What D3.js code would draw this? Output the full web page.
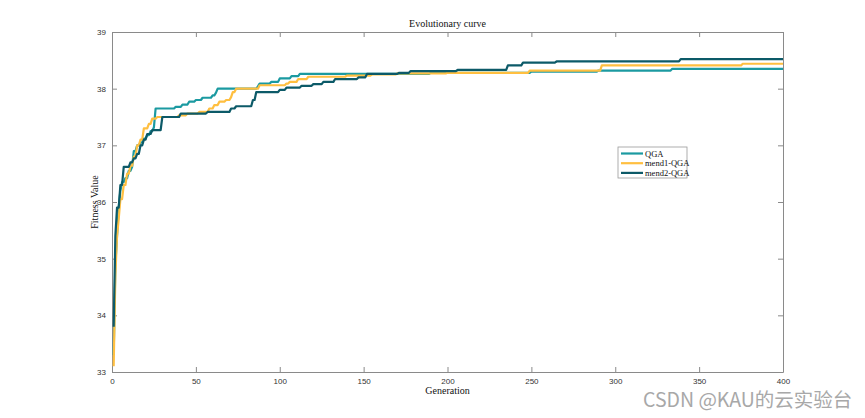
<!DOCTYPE html>
<html><head><meta charset="utf-8">
<script src="https://cdn.jsdelivr.net/npm/d3@7"></script>
<style>body{margin:0;background:#fff;}svg{display:block;}</style>
</head><body>
<script>
const seriesNames = ["QGA", "mend1-QGA", "mend2-QGA"];
const seriesColors = ["#1b9aa1", "#ffbf40", "#0c5a68"];
const xTicks = [0, 50, 100, 150, 200, 250, 300, 350, 400];
const yTicks = [33, 34, 35, 36, 37, 38, 39];

// generations where the best fitness changes, and the new value from that generation on
const qgaGen = [1,2,3,4,5,6,8,10,12,13,15,17,19,21,23,25,26,38,42,46,50,54,60,62,63,87,88,95,100,107,112,190,250,290,334,400];
const qgaVal = [33.3,34.9,35.4,35.9,36.2,36.35,36.42,36.55,36.62,36.9,37.0,37.05,37.12,37.18,37.25,37.32,37.65,37.68,37.72,37.77,37.8,37.84,37.88,37.93,38.0,38.04,38.09,38.12,38.18,38.22,38.26,38.28,38.3,38.32,38.35,38.35];

const mend1Gen = [1,2,3,4,5,7,9,11,13,15,17,19,22,24,27,40,45,52,58,61,64,68,71,72,74,88,104,106,111,117,140,155,170,200,249,292,376,400];
const mend1Val = [33.1,34.7,35.4,35.7,36.05,36.3,36.5,36.64,36.8,37.0,37.1,37.3,37.38,37.47,37.5,37.53,37.56,37.59,37.65,37.71,37.77,37.8,37.85,37.94,38.0,38.06,38.09,38.12,38.17,38.21,38.23,38.25,38.27,38.28,38.32,38.41,38.44,38.44];

const mend2Gen = [1,2,3,5,7,11,13,15,17,19,21,24,30,41,57,71,74,84,86,100,104,113,120,126,133,147,152,171,178,206,236,245,265,339,400];
const mend2Val = [33.8,35.4,35.9,36.3,36.62,36.7,36.77,36.85,37.0,37.1,37.2,37.27,37.5,37.56,37.59,37.65,37.69,37.8,37.94,37.98,38.02,38.05,38.08,38.12,38.17,38.2,38.26,38.28,38.31,38.33,38.41,38.46,38.48,38.52,38.52];

const W = 865, H = 418;
const margin = {left:112, right:82, top:32, bottom:46};
const svg = d3.select("body").append("svg").attr("width", W).attr("height", H);

const x = d3.scaleLinear().domain([0,400]).range([margin.left, W - margin.right]);
const y = d3.scaleLinear().domain([33,39]).range([H - margin.bottom, margin.top]);

const axisColor = "#8a8a8a";
const tickFont = "'Liberation Sans', Arial, sans-serif";
const serif = "'Liberation Serif', 'Times New Roman', serif";

function styleAxis(g, showLabels){
  g.select(".domain").attr("stroke", axisColor).attr("stroke-width", 1);
  g.selectAll(".tick line").attr("stroke", axisColor);
  g.selectAll(".tick text").attr("fill", "#333").style("font-family", tickFont).style("font-size", "8px");
  if(!showLabels) g.selectAll(".tick text").remove();
}

const x0 = x.range()[0], x1 = x.range()[1], y0 = y.range()[0], y1 = y.range()[1];
const fmt = d3.format("d");

svg.append("g").attr("transform", `translate(0,${y0})`)
  .call(d3.axisBottom(x).tickValues(xTicks).tickFormat(fmt).tickSizeInner(-5).tickSizeOuter(0).tickPadding(6))
  .call(g => styleAxis(g, true));
svg.append("g").attr("transform", `translate(0,${y1})`)
  .call(d3.axisTop(x).tickValues(xTicks).tickSizeInner(-5).tickSizeOuter(0))
  .call(g => styleAxis(g, false));
svg.append("g").attr("transform", `translate(${x0},0)`)
  .call(d3.axisLeft(y).tickValues(yTicks).tickFormat(fmt).tickSizeInner(-5).tickSizeOuter(0).tickPadding(6))
  .call(g => styleAxis(g, true));
svg.append("g").attr("transform", `translate(${x1},0)`)
  .call(d3.axisRight(y).tickValues(yTicks).tickSizeInner(-5).tickSizeOuter(0))
  .call(g => styleAxis(g, false));

const series = [
  {gen: qgaGen, val: qgaVal},
  {gen: mend1Gen, val: mend1Val},
  {gen: mend2Gen, val: mend2Val}
];
// expand the change points to one point per generation (value held until the next change)
function perGeneration(s){
  const pts = [];
  let k = 0;
  for(let g = s.gen[0]; g <= s.gen[s.gen.length-1]; g++){
    while(k + 1 < s.gen.length && s.gen[k+1] <= g) k++;
    pts.push([g, s.val[k]]);
  }
  return pts;
}
const line = d3.line().x(d => x(d[0])).y(d => y(d[1]));
series.forEach((s, i) => {
  svg.append("path").attr("d", line(perGeneration(s))).attr("fill", "none")
    .attr("stroke", seriesColors[i]).attr("stroke-width", 2.2).attr("stroke-linejoin", "round");
});

// title & labels
svg.append("text").attr("x", (x0 + x1)/2).attr("y", y1 - 5).attr("text-anchor", "middle")
  .style("font-family", serif).style("font-size", "10px").attr("fill", "#111").text("Evolutionary curve");
svg.append("text").attr("x", (x0 + x1)/2).attr("y", y0 + 22).attr("text-anchor", "middle")
  .style("font-family", serif).style("font-size", "10px").attr("fill", "#111").text("Generation");
svg.append("text").attr("transform", `translate(${x0 - 14},${(y0 + y1)/2}) rotate(-90)`).attr("text-anchor", "middle")
  .style("font-family", serif).style("font-size", "10px").attr("fill", "#111").text("Fitness Value");

// legend
const lg = svg.append("g").attr("transform", "translate(618,147)");
lg.append("rect").attr("width", 69).attr("height", 31).attr("fill", "#fff").attr("stroke", "#999").attr("stroke-width", 0.8);
seriesNames.forEach((n, i) => {
  const yy = 6.5 + i * 9.7;
  lg.append("line").attr("x1", 3).attr("x2", 25).attr("y1", yy).attr("y2", yy)
    .attr("stroke", seriesColors[i]).attr("stroke-width", 2.2);
  lg.append("text").attr("x", 27).attr("y", yy + 3).style("font-family", serif).style("font-size", "8.5px")
    .attr("fill", "#111").text(n);
});

// watermark
svg.append("text").attr("x", 643).attr("y", 407).style("font-family", "'Noto Sans CJK SC', 'Noto Sans', sans-serif")
  .style("font-size", "19.5px").attr("fill", "#a8a8a8").text("CSDN @KAU的云实验台");
</script>
</body></html>
